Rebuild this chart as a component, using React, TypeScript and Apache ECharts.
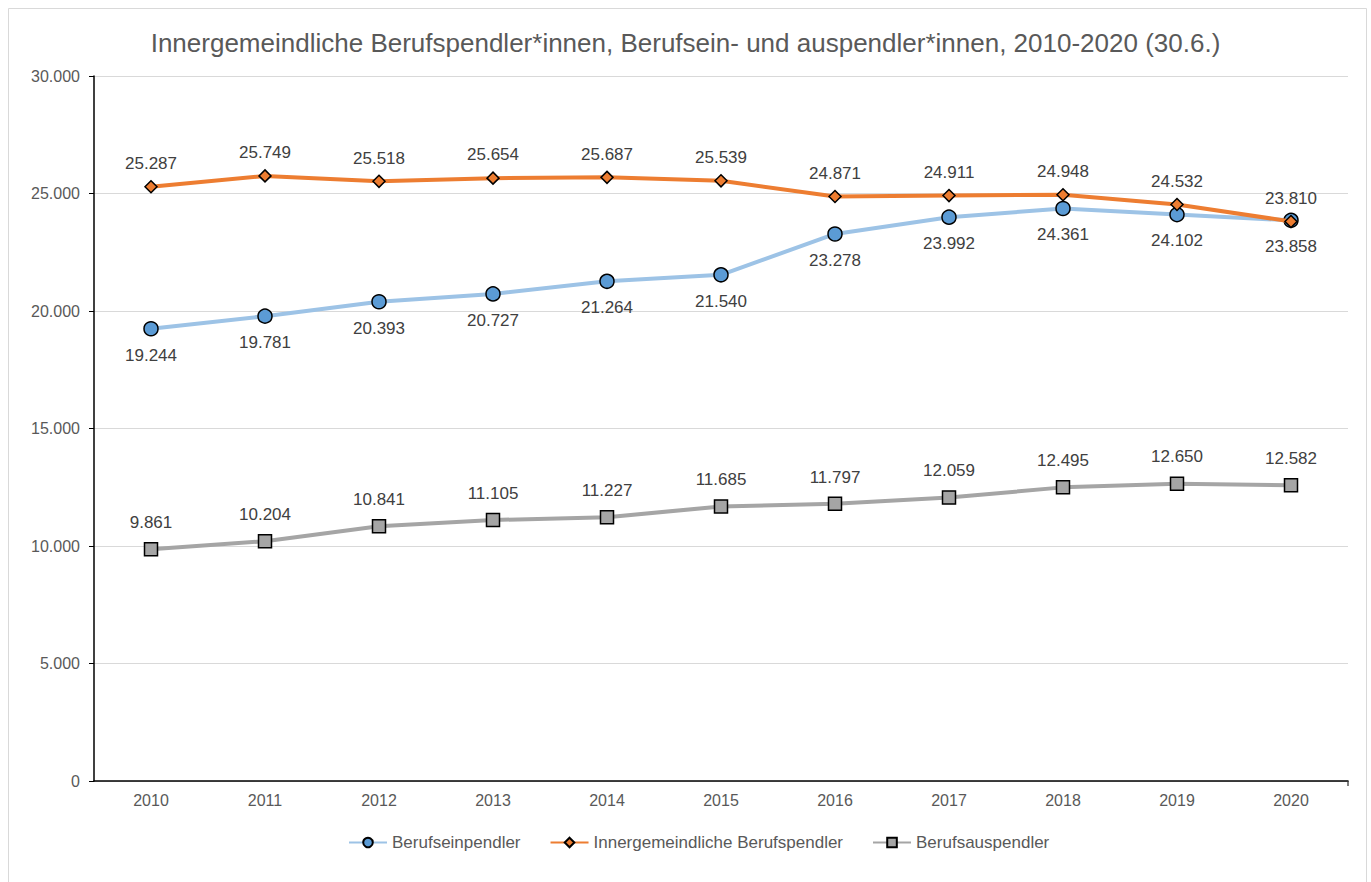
import React, { useEffect, useRef } from "react";
import * as echarts from "echarts";

const years = ["2010", "2011", "2012", "2013", "2014", "2015", "2016", "2017", "2018", "2019", "2020"];
const einpendler = [19244, 19781, 20393, 20727, 21264, 21540, 23278, 23992, 24361, 24102, 23858];
const innergemeindlich = [25287, 25749, 25518, 25654, 25687, 25539, 24871, 24911, 24948, 24532, 23810];
const auspendler = [9861, 10204, 10841, 11105, 11227, 11685, 11797, 12059, 12495, 12650, 12582];

const fmt = (v: number) => {
  const s = String(Math.round(v));
  return s.replace(/\B(?=(\d{3})+(?!\d))/g, ".");
};

const FONT = "Liberation Sans, Arial, sans-serif";

export default function App() {
  const ref = useRef<HTMLDivElement>(null);
  useEffect(() => {
    const chart = echarts.init(ref.current!, null, { renderer: "svg" });
    const labelStyle = (pos: string, dist: number) => ({
      show: true,
      position: pos,
      distance: dist,
      color: "#404040",
      fontSize: 17,
      fontFamily: FONT,
      formatter: (p: any) => fmt(p.value),
    });
    chart.setOption({
      animation: false,
      backgroundColor: "#ffffff",
      title: {
        text: "Innergemeindliche Berufspendler*innen, Berufsein- und auspendler*innen, 2010-2020 (30.6.)",
        left: "center",
        top: 25,
        textStyle: { color: "#595959", fontSize: 26, fontWeight: "normal", fontFamily: FONT },
      },
      graphic: [
        {
          type: "rect",
          shape: { x: 8.5, y: 8.5, width: 1358, height: 880 },
          style: { fill: "none", stroke: "#d9d9d9", lineWidth: 1 },
          silent: true,
        },
        {
          type: "line",
          shape: { x1: 1348, y1: 781, x2: 1348, y2: 786 },
          style: { stroke: "#000000", lineWidth: 1 },
          silent: true,
        },
      ],
      legend: {
        top: 829,
        left: 343,
        itemWidth: 38,
        itemHeight: 12,
        itemGap: 29,
        textStyle: { color: "#595959", fontSize: 17, fontFamily: FONT },
        data: ["Berufseinpendler", "Innergemeindliche Berufspendler", "Berufsauspendler"],
      },
      grid: { left: 94, right: 23, top: 76, bottom: 101, containLabel: false },
      xAxis: {
        type: "category",
        data: years,
        boundaryGap: true,
        axisLine: { lineStyle: { color: "#000000", width: 1.5 } },
        axisTick: { alignWithLabel: true, length: 5, lineStyle: { color: "#000000" } },
        axisLabel: { color: "#595959", fontSize: 16, fontFamily: FONT, margin: 11 },
      },
      yAxis: {
        type: "value",
        min: 0,
        max: 30000,
        interval: 5000,
        axisLine: { show: true, lineStyle: { color: "#000000", width: 1.5 } },
        axisTick: { show: true, length: 5, lineStyle: { color: "#000000" } },
        axisLabel: { color: "#595959", fontSize: 16, fontFamily: FONT, margin: 14, formatter: (v: number) => fmt(v) },
        splitLine: { lineStyle: { color: "#d9d9d9", width: 1 } },
      },
      series: [
        {
          name: "Berufseinpendler",
          type: "line",
          data: einpendler,
          symbol: "circle",
          symbolSize: 14,
          lineStyle: { color: "#9dc3e6", width: 4 },
          itemStyle: { color: "#5b9bd5", borderColor: "#000000", borderWidth: 1.5 },
          label: labelStyle("bottom", 10),
          z: 2,
        },
        {
          name: "Innergemeindliche Berufspendler",
          type: "line",
          data: innergemeindlich,
          symbol: "diamond",
          symbolSize: 12,
          lineStyle: { color: "#ed7d31", width: 4 },
          itemStyle: { color: "#ed7d31", borderColor: "#000000", borderWidth: 1.5 },
          label: labelStyle("top", 8),
          z: 3,
        },
        {
          name: "Berufsauspendler",
          type: "line",
          data: auspendler,
          symbol: "rect",
          symbolSize: 13,
          lineStyle: { color: "#a5a5a5", width: 4 },
          itemStyle: { color: "#a5a5a5", borderColor: "#000000", borderWidth: 1.5 },
          label: labelStyle("top", 11),
          z: 2,
        },
      ],
    });
    return () => chart.dispose();
  }, []);
  return (
    <div
      ref={ref}
      style={{ position: "absolute", left: 0, top: 0, width: 1371, height: 882 }}
    />
  );
}
